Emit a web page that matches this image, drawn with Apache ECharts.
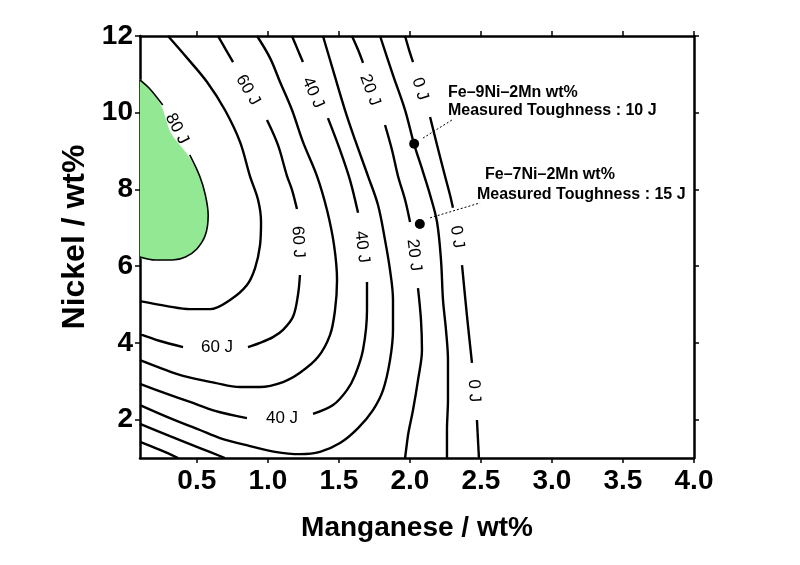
<!DOCTYPE html>
<html>
<head>
<meta charset="utf-8">
<script src="https://cdn.jsdelivr.net/npm/echarts@6/dist/echarts.min.js"></script>
<style>
html,body{margin:0;padding:0;background:#fff;}
#chart{width:800px;height:565px;}
</style>
</head>
<body>
<div id="chart"></div>
<script>
// ---- axis ticks ----
const xTicks = [0.5, 1.0, 1.5, 2.0, 2.5, 3.0, 3.5, 4.0];
const yTicks = [2, 4, 6, 8, 10, 12];

// ---- contour lines (Manganese wt%, Nickel wt%) ----
const c80 = [[0.10,10.85],[0.17,10.62],[0.26,10.20]];
const c80b = [[0.45,8.90],[0.52,8.35],[0.56,7.86],[0.58,7.33],[0.56,6.81],[0.50,6.45],[0.42,6.24],[0.33,6.16],[0.21,6.16],[0.10,6.24]];
const c80fill = [[0.10,6.24],[0.10,7.5],[0.10,9.0],[0.10,10.85],[0.17,10.62],[0.25,10.18],[0.318,9.47],[0.44,8.88],[0.52,8.35],[0.56,7.86],[0.58,7.33],[0.56,6.81],[0.50,6.45],[0.42,6.24],[0.33,6.16],[0.21,6.16]];

const c70 = [[0.297,12.0],[0.431,11.43],[0.572,10.80],[0.698,10.07],[0.804,9.24],[0.874,8.35],[0.931,7.73],[0.952,7.15],[0.945,6.55],[0.910,5.95],[0.853,5.51],[0.734,5.12],[0.593,4.88],[0.452,4.88],[0.29,4.96],[0.10,5.09]];

const c60a = [[0.649,12.0],[0.705,11.64],[0.755,11.32]];
const c60b = [[0.994,9.81],[1.071,9.16],[1.135,8.35],[1.170,7.99],[1.205,7.49]];
const c60c = [[1.226,5.77],[1.212,5.25],[1.177,4.68],[1.107,4.34],[1.036,4.15],[0.945,4.00],[0.860,3.89]];
const c60d = [[0.403,3.89],[0.241,4.05],[0.10,4.23]];

const c50 = [[0.924,12.0],[1.015,11.43],[1.086,10.80],[1.170,10.07],[1.247,9.24],[1.346,8.35],[1.416,7.47],[1.466,6.55],[1.487,5.64],[1.473,4.86],[1.438,4.21],[1.353,3.63],[1.226,3.22],[1.107,2.98],[0.945,2.85],[0.804,2.85],[0.628,2.96],[0.403,3.14],[0.241,3.35],[0.10,3.55]];

const c40a = [[1.170,12.0],[1.205,11.69],[1.247,11.32]];
const c40b = [[1.423,9.86],[1.508,9.03],[1.578,8.25],[1.635,7.39]];
const c40c = [[1.698,5.59],[1.698,4.86],[1.670,3.82],[1.614,3.16],[1.557,2.77],[1.459,2.38],[1.318,2.15]];
const c40d = [[0.853,2.04],[0.628,2.23],[0.452,2.46],[0.276,2.69],[0.10,2.93]];

const c30 = [[1.388,12.0],[1.459,11.11],[1.543,10.07],[1.614,9.29],[1.705,8.35],[1.775,7.60],[1.825,6.68],[1.860,5.90],[1.881,5.12],[1.881,4.34],[1.860,3.55],[1.811,2.77],[1.740,2.25],[1.635,1.78],[1.508,1.39],[1.367,1.16],[1.226,1.10],[1.050,1.16],[0.874,1.31],[0.663,1.52],[0.522,1.73],[0.311,2.04],[0.10,2.38]];

const c20a = [[1.592,12.0],[1.635,11.64],[1.670,11.30]];
const c20b = [[1.825,9.68],[1.874,9.03],[1.916,8.35],[1.966,7.73],[2.001,7.15]];
const c20c = [[2.057,5.43],[2.078,4.60],[2.085,3.82],[2.057,3.03],[2.022,2.25],[1.987,1.60],[1.966,1.00]];
const c20d = [[0.10,1.89],[0.311,1.57],[0.522,1.26],[0.698,1.00]];

const c10 = [[1.790,12.0],[1.881,10.98],[1.966,10.07],[2.029,9.19],[2.092,8.46],[2.142,7.86],[2.191,7.15],[2.219,6.16],[2.233,5.12],[2.254,4.34],[2.268,3.55],[2.268,2.51],[2.261,1.73],[2.261,1.00]];
const c10d = [[0.10,1.42],[0.241,1.21],[0.368,1.00]];

const c0a = [[1.966,12.0],[1.994,11.64],[2.022,11.32]];
const c0b = [[2.142,9.89],[2.191,9.16],[2.247,8.35],[2.282,7.86],[2.303,7.52]];
const c0c = [[2.367,6.03],[2.402,4.70],[2.437,3.48]];
const c0d = [[2.472,1.99],[2.486,1.00]];

// ---- contour labels ----
const labelText = ['80 J','60 J','60 J','60 J','40 J','40 J','40 J','20 J','20 J','0 J','0 J','0 J'];
const labelPos = [[0.36,9.58],[0.860,10.59],[1.212,6.63],[0.642,3.89],[1.318,10.52],[1.663,6.50],[1.100,2.04],[1.719,10.59],[2.029,6.29],[2.071,10.62],[2.332,6.76],[2.451,2.75]];
const labelAngle = [-62,-60,-87,0,-66,-83,0,-70,-83,-73,-81,-87];

// ---- measured samples ----
const samples = [[2.03,9.19],[2.07,7.10]];
const leader1 = [[2.092,9.34],[2.296,9.81]];
const leader2 = [[2.142,7.26],[2.494,7.65]];
const noteText = ['Fe\u20139Ni\u20132Mn wt%','Measured Toughness : 10 J','Fe\u20137Ni\u20132Mn wt%','Measured Toughness : 15 J'];
const notePos = [[2.268,10.52],[2.268,10.05],[2.529,8.38],[2.472,7.86]];

const FONT = 'Liberation Sans, Arial, Helvetica, sans-serif';
const chart = echarts.init(document.getElementById('chart'), null, {renderer:'canvas'});

const contourSegs = [c80, c80b, c70, c60a, c60b, c60c, c60d, c50, c40a, c40b, c40c, c40d, c30, c20a, c20b, c20c, c20d, c10, c10d, c0a, c0b, c0c, c0d];

function lineSeries(data, width) {
  return {
    type:'line', data:data, showSymbol:false, symbol:'none', smooth:0.35,
    lineStyle:{color:'#000', width:width, opacity:1}, z:3, silent:true, animation:false
  };
}

const series = [];
series.push({
  type:'custom', z:1, silent:true, animation:false, clip:true,
  data:[0],
  renderItem:function(params, api){
    const pts = c80fill.map(p => api.coord(p));
    return {type:'polygon', shape:{points:pts, smooth:0.3}, style:{fill:'#93e993', stroke:null}};
  }
});
contourSegs.forEach((seg) => {
  series.push(lineSeries(seg, (seg === c80 || seg === c80b) ? 1.6 : 2.4));
});
series.push({
  type:'scatter', symbolSize:0, z:5, silent:true, animation:false,
  itemStyle:{opacity:1},
  data: labelPos.map((p,i) => ({value:p, label:{formatter:labelText[i], rotate:labelAngle[i]}})),
  label:{show:true, position:'inside', color:'#000', fontSize:17, fontFamily:FONT, align:'center', verticalAlign:'middle'}
});
series.push({type:'line', data:leader1, showSymbol:false, symbol:'none', lineStyle:{color:'#000', width:1, type:[2,2]}, z:4, silent:true, animation:false});
series.push({type:'line', data:leader2, showSymbol:false, symbol:'none', lineStyle:{color:'#000', width:1, type:[2,2]}, z:4, silent:true, animation:false});
series.push({
  type:'scatter', data:samples, symbol:'circle', symbolSize:10, itemStyle:{color:'#000', opacity:1}, z:6, silent:true, animation:false
});
series.push({
  type:'scatter', symbolSize:0, z:6, silent:true, animation:false,
  itemStyle:{opacity:1},
  data: notePos.map((p,i) => ({value:p, label:{formatter:noteText[i]}})),
  label:{show:true, position:'inside', align:'left', verticalAlign:'middle', color:'#000', fontSize:16, fontWeight:'bold', fontFamily:FONT}
});

const axisLineStyle = {color:'#000', width:2.5};
const tickStyle = {color:'#000', width:1.5};

chart.setOption({
  backgroundColor:'#fff',
  animation:false,
  grid:{left:140, right:106, top:36, bottom:107, containLabel:false},
  xAxis:[{
    type:'value', min:0.1, max:4.0, position:'bottom',
    axisLine:{show:true, onZero:false, lineStyle:axisLineStyle},
    axisTick:{show:true, customValues:xTicks, inside:false, length:5, lineStyle:tickStyle},
    axisLabel:{show:true, customValues:xTicks, formatter:v => Number(v).toFixed(1), fontSize:28, fontWeight:'bold', fontFamily:FONT, color:'#000', margin:9},
    splitLine:{show:false},
    name:'Manganese / wt%', nameLocation:'middle', nameGap:56,
    nameTextStyle:{fontSize:28, fontWeight:'bold', fontFamily:FONT, color:'#000'}
  },{
    type:'value', min:0.1, max:4.0, position:'top',
    axisLine:{show:true, onZero:false, lineStyle:axisLineStyle},
    axisTick:{show:true, customValues:xTicks, inside:false, length:5, lineStyle:tickStyle},
    axisLabel:{show:false}, splitLine:{show:false}
  }],
  yAxis:[{
    type:'value', min:1, max:12, position:'left',
    axisLine:{show:true, onZero:false, lineStyle:axisLineStyle},
    axisTick:{show:true, customValues:yTicks, inside:false, length:5, lineStyle:tickStyle},
    axisLabel:{show:true, customValues:yTicks, formatter:v => String(v), fontSize:28, fontWeight:'bold', fontFamily:FONT, color:'#000', margin:7},
    splitLine:{show:false},
    name:'Nickel / wt%', nameLocation:'middle', nameGap:46, nameRotate:90,
    nameTextStyle:{fontSize:32, fontWeight:'bold', fontFamily:FONT, color:'#000', padding:[0,0,0,20]}
  },{
    type:'value', min:1, max:12, position:'right',
    axisLine:{show:true, onZero:false, lineStyle:axisLineStyle},
    axisTick:{show:true, customValues:yTicks, inside:false, length:5, lineStyle:tickStyle},
    axisLabel:{show:false}, splitLine:{show:false}
  }],
  series: series
});
</script>
</body>
</html>
